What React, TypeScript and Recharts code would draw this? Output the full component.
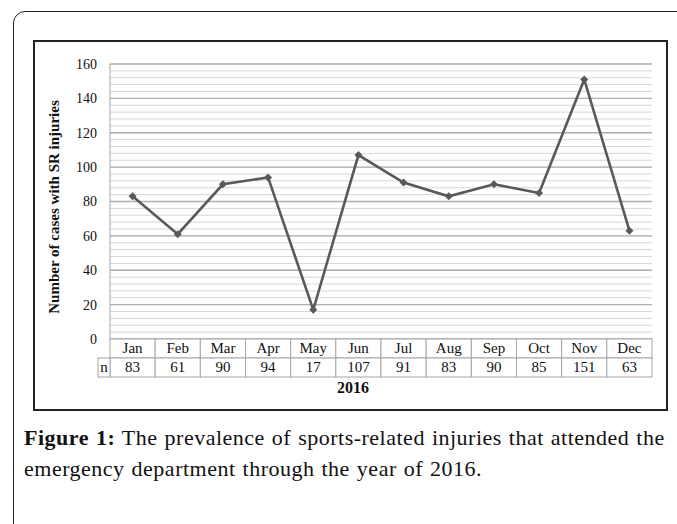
import React from 'react';
import { LineChart, Line, XAxis, YAxis, CartesianGrid } from 'recharts';

const months = ['Jan', 'Feb', 'Mar', 'Apr', 'May', 'Jun', 'Jul', 'Aug', 'Sep', 'Oct', 'Nov', 'Dec'];
const cases = [83, 61, 90, 94, 17, 107, 91, 83, 90, 85, 151, 63];
const yTicks = [0, 20, 40, 60, 80, 100, 120, 140, 160];
const minorTicks = Array.from({ length: 41 }, (_, i) => i * 4);
const yMax = 160;
const yearLabel = '2016';
const yLabel = 'Number of cases with SR injuries';

const data = months.map((m, i) => ({ month: m, cases: cases[i] }));

const W = 677;
const H = 524;
const PLOT_LEFT = 110;
const PLOT_RIGHT = 652;
const PLOT_TOP = 64;
const PLOT_BOTTOM = 339;
const BW = (PLOT_RIGHT - PLOT_LEFT) / months.length;
const ROW = 19;
const SERIF = '"Liberation Serif", "Times New Roman", serif';
const CELL = '#a6a6a6';

const TableTick = (props: any) => {
  const { x, y, index, payload } = props;
  const left = x - BW / 2;
  return (
    <g>
      <rect x={left} y={y} width={BW} height={ROW} fill="#fff" stroke={CELL} strokeWidth={1} />
      <rect x={left} y={y + ROW} width={BW} height={ROW} fill="#fff" stroke={CELL} strokeWidth={1} />
      {index === 0 && (
        <g>
          <rect x={left - 12} y={y + ROW} width={12} height={ROW} fill="#fff" stroke={CELL} strokeWidth={1} />
          <text x={left - 6} y={y + ROW + 14} textAnchor="middle" fontFamily={SERIF} fontSize={15} fill="#111">n</text>
        </g>
      )}
      <text x={x} y={y + 14} textAnchor="middle" fontFamily={SERIF} fontSize={15} fill="#111">{payload.value}</text>
      <text x={x} y={y + ROW + 14} textAnchor="middle" fontFamily={SERIF} fontSize={15} fill="#111">{cases[index]}</text>
    </g>
  );
};

const Diamond = (props: any) => {
  const { cx, cy } = props;
  if (cx == null || cy == null) return null;
  const r = 4;
  return <path d={`M${cx},${cy - r}L${cx + r},${cy}L${cx},${cy + r}L${cx - r},${cy}Z`} fill="#595959" />;
};

const minorGen = (args: any) => {
  const ax = args && args.yAxis;
  const s = ax && ax.scale;
  if (typeof s === 'function') return minorTicks.map((t) => s(t));
  if (s && typeof s.map === 'function') return minorTicks.map((t) => s.map(t));
  const off = args && args.offset;
  if (off) return minorTicks.map((t) => off.top + (1 - t / yMax) * off.height);
  return [];
};

export default function App() {
  return (
    <div style={{ position: 'absolute', left: 0, top: 0, width: W, height: H, background: '#fff', overflow: 'hidden' }}>
      <div style={{ position: 'absolute', left: 13, top: 11, width: 700, height: 560, border: '1.5px solid #222', borderRadius: 12, boxSizing: 'border-box' }} />
      <div style={{ position: 'absolute', left: 33, top: 40, width: 635, height: 371, border: '2px solid #222', boxSizing: 'border-box' }} />
      <div style={{ position: 'absolute', left: 0, top: 0 }}>
        <LineChart width={W} height={H} data={data} margin={{ top: PLOT_TOP, right: W - PLOT_RIGHT, bottom: H - PLOT_BOTTOM - 1, left: 60 }}>
          <CartesianGrid vertical={false} stroke="#d6d6d6" strokeWidth={1} horizontalCoordinatesGenerator={minorGen} syncWithTicks={false} />
          <CartesianGrid vertical={false} stroke="#b0b0b0" strokeWidth={1.3} />
          <XAxis
            dataKey="month"
            scale="band"
            height={1}
            axisLine={false}
            tickLine={false}
            tickSize={0}
            tickMargin={0}
            interval={0}
            tick={<TableTick />}
            label={{
              content: () => (
                <text x={353} y={393} textAnchor="middle" fontFamily={SERIF} fontWeight="bold" fontSize={16} fill="#111">{yearLabel}</text>
              ),
            }}
          />
          <YAxis
            domain={[0, yMax]}
            ticks={yTicks}
            width={50}
            axisLine={{ stroke: '#a6a6a6' }}
            tickLine={false}
            tickMargin={7}
            tick={{ fontFamily: SERIF, fontSize: 14, fill: '#111' }}
            label={{
              content: () => (
                <text x={56} y={207} transform="rotate(-90 56 207)" textAnchor="middle" dominantBaseline="middle" fontFamily={SERIF} fontWeight="bold" fontSize={15} fill="#111">{yLabel}</text>
              ),
            }}
          />
          <Line dataKey="cases" stroke="#595959" strokeWidth={2.6} dot={<Diamond />} activeDot={false} isAnimationActive={false} />
        </LineChart>
      </div>
      <div style={{ position: 'absolute', left: 24, top: 422, width: 660, fontFamily: SERIF, fontSize: 22, lineHeight: '31px', letterSpacing: 0.5, wordSpacing: 1, color: '#111', whiteSpace: 'nowrap' }}>
        <b>Figure 1:</b> The prevalence of sports-related injuries that attended the
        <br />
        emergency department through the year of 2016.
      </div>
    </div>
  );
}
